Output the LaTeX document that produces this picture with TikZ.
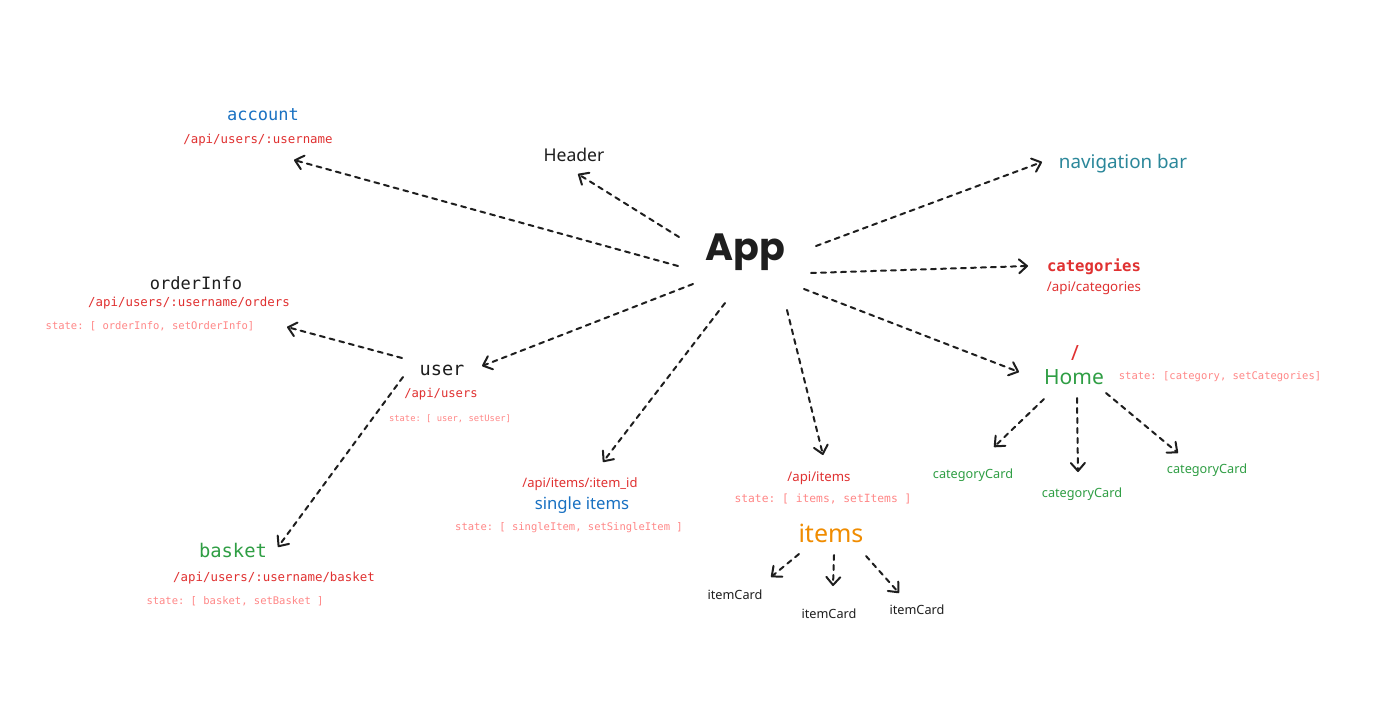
\documentclass[tikz,border=0pt]{standalone}
\usepackage{fontspec}
\setmainfont{Noto Sans}
\setmonofont{DejaVu Sans Mono}
\newfontfamily\appfont{Poppins}
\usetikzlibrary{arrows.meta}
\definecolor{ink}{HTML}{1E1E1E}
\definecolor{cblue}{HTML}{1971C2}
\definecolor{cred}{HTML}{E03131}
\definecolor{clight}{HTML}{FF8787}
\definecolor{cgreen}{HTML}{2F9E44}
\definecolor{corange}{HTML}{F08C00}
\definecolor{cteal}{HTML}{2B879A}
\tikzset{
  lbl/.style={inner sep=0pt, anchor=center},
  mono/.style={lbl, font=\ttfamily\fontsize{#1}{#1}\selectfont, text height=0.72*#1pt, text depth=0pt},
  sans/.style={lbl, font=\fontsize{#1}{#1}\selectfont, text height=0.72*#1pt, text depth=0pt},
  link/.style={draw=ink, line width=2pt, line cap=round, dash pattern=on 5pt off 5pt,
    -{Straight Barb[length=8pt,width=14pt,line width=2pt,round]}},
}
\begin{document}
\begin{tikzpicture}[x=1pt,y=-1pt]
\useasboundingbox[fill=white] (0,0) rectangle (1392,718);

% central node
\node[lbl, font=\appfont\fontsize{38}{38}\selectfont, text=ink, text height=27pt, text depth=0pt] (app) at (745,247) {\textbf{App}};

% labels
\node[mono=17, text=cblue] (account) at (263,114) {account};
\node[mono=12.4, text=cred] (accountapi) at (258,139) {/api/users/:username};

\node[sans=17.6, text=ink] (header) at (574,155) {Header};
\node[sans=18.8, text=cteal] (nav) at (1123,162) {navigation bar};

\node[mono=15.6, text=cred, font=\ttfamily\bfseries\fontsize{15.6}{15.6}\selectfont] (categories) at (1094,266) {categories};
\node[sans=13.3, text=cred] (catapi) at (1094,287) {/api/categories};

\node[mono=17, text=ink] (orderinfo) at (196,283) {orderInfo};
\node[mono=12.4, text=cred] (orderapi) at (189,302) {/api/users/:username/orders};
\node[mono=10.5, text=clight] (orderstate) at (150,326) {state: [ orderInfo, setOrderInfo]};

\node[mono=18.6, text=ink] (user) at (442,369) {user};
\node[mono=12.2, text=cred] (userapi) at (441,393) {/api/users};
\node[mono=8.8, text=clight] (userstate) at (450,418) {state: [ user, setUser]};

\node[sans=13, text=cred] (singleapi) at (580,483) {/api/items/:item\_id};
\node[sans=16.7, text=cblue] (single) at (582,503) {single items};
\node[mono=10.5, text=clight] (singlestate) at (569,527) {state: [ singleItem, setSingleItem ]};

\node[sans=13.2, text=cred] (itemsapi) at (819,477) {/api/items};
\node[mono=11.3, text=clight] (itemsstate) at (823,498) {state: [ items, setItems ]};
\node[sans=25, text=corange] (items) at (831,533) {items};
\node[sans=12.7, text=ink] (ic1) at (735,595) {itemCard};
\node[sans=12.7, text=ink] (ic2) at (829,614) {itemCard};
\node[sans=12.7, text=ink] (ic3) at (917,610) {itemCard};

\node[sans=21, text=cred] (slash) at (1075,353) {/};
\node[sans=21, text=cgreen] (home) at (1074,377) {Home};
\node[mono=10.5, text=clight] (homestate) at (1220,376) {state: [category, setCategories]};
\node[sans=12.7, text=cgreen] (cc1) at (973,474) {categoryCard};
\node[sans=12.7, text=cgreen] (cc2) at (1082,493) {categoryCard};
\node[sans=12.7, text=cgreen] (cc3) at (1207,469) {categoryCard};

\node[mono=18.8, text=cgreen] (basket) at (233,551) {basket};
\node[mono=12.4, text=cred] (basketapi) at (274,577) {/api/users/:username/basket};
\node[mono=10.5, text=clight] (basketstate) at (235,601) {state: [ basket, setBasket ]};

% connector ends
\coordinate (s-account) at (678,266);  \coordinate (e-account) at (294,160);
\coordinate (s-header) at (679,237);   \coordinate (e-header) at (578,174);
\coordinate (s-nav) at (816,246);      \coordinate (e-nav) at (1042,162);
\coordinate (s-cat) at (811,273);      \coordinate (e-cat) at (1028,266);
\coordinate (s-user) at (693,284);     \coordinate (e-user) at (482,366);
\coordinate (s-home) at (804,289);     \coordinate (e-home) at (1019,372);
\coordinate (s-single) at (725,303);   \coordinate (e-single) at (603,462);
\coordinate (s-items) at (787,310);    \coordinate (e-items) at (823,455);
\coordinate (s-order) at (402,358);    \coordinate (e-order) at (287,327);
\coordinate (s-basket) at (403,377);   \coordinate (e-basket) at (278,547);
\coordinate (s-cc1) at (1044,399);     \coordinate (e-cc1) at (994,447);
\coordinate (s-cc2) at (1077,398);     \coordinate (e-cc2) at (1078,472);
\coordinate (s-cc3) at (1106,393);     \coordinate (e-cc3) at (1178,453);
\coordinate (s-ic1) at (799,554);      \coordinate (e-ic1) at (771,577);
\coordinate (s-ic2) at (834,555);      \coordinate (e-ic2) at (833,586);
\coordinate (s-ic3) at (866,556);      \coordinate (e-ic3) at (899,593);

% connectors
\draw[link] (s-account) -- (e-account);
\draw[link] (s-header) -- (e-header);
\draw[link] (s-nav) -- (e-nav);
\draw[link] (s-cat) -- (e-cat);
\draw[link] (s-user) -- (e-user);
\draw[link] (s-home) -- (e-home);
\draw[link] (s-single) -- (e-single);
\draw[link] (s-items) -- (e-items);
\draw[link] (s-order) -- (e-order);
\draw[link] (s-basket) -- (e-basket);
\draw[link] (s-cc1) -- (e-cc1);
\draw[link] (s-cc2) -- (e-cc2);
\draw[link] (s-cc3) -- (e-cc3);
\draw[link] (s-ic1) -- (e-ic1);
\draw[link] (s-ic2) -- (e-ic2);
\draw[link] (s-ic3) -- (e-ic3);
\end{tikzpicture}
\end{document}
